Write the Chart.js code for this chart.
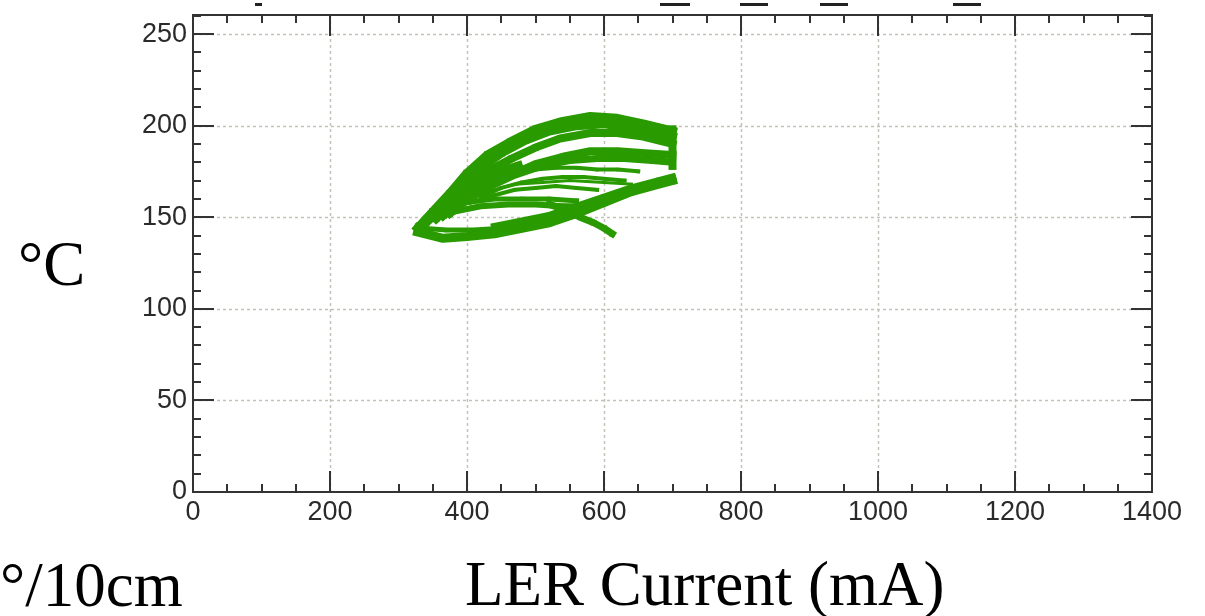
<!DOCTYPE html>
<html>
<head>
<meta charset="utf-8">
<script src="https://cdn.jsdelivr.net/npm/chart.js@4"></script>
<style>
html, body { margin: 0; padding: 0; background: #fff; }
</style>
</head>
<body>
<canvas id="chartTemp" width="1205" height="616"></canvas>
<script>
// axis ranges / ticks
const xTicks = [0, 200, 400, 600, 800, 1000, 1200, 1400];
const yTicks = [0, 50, 100, 150, 200, 250];
const xMinor = 50, yMinor = 10;
const xMax = 1400, yMax = 260.4;

// traces: LER current (mA) vs temperature (°C)
const arcTopI = [328, 350, 375, 400, 430, 463, 500, 536, 580, 619, 657, 700];
const arcTopT = [144, 153, 163, 174, 184, 191, 198, 202, 205, 204, 201, 197];
const arc2I = [340, 365, 390, 420, 450, 485, 520, 560, 600, 640, 700];
const arc2T = [147, 156, 166, 177, 185, 192, 197, 200, 201, 199, 194];
const arc3I = [355, 380, 405, 435, 465, 500, 536, 580, 619, 657, 700];
const arc3T = [149, 158, 167, 176, 182, 188, 193, 196, 196, 194, 190];
const fillI = [365, 395, 425, 450, 475];
const fillT = [151, 161, 170, 175, 178];
const arc4I = [375, 405, 440, 470, 500, 540, 580, 620, 660, 700];
const arc4T = [152, 161, 169, 174, 179, 183, 186, 186, 185, 184];
const arc5I = [395, 430, 470, 510, 550, 590, 630, 670, 700];
const arc5T = [158, 166, 173, 178, 181, 182, 182, 181, 180];
const rightI = [700, 700, 700, 700];
const rightT = [178, 185, 192, 198];

const midAI = [410, 440, 470, 500, 530, 560, 590, 620, 650];
const midAT = [165, 170, 174, 176, 177, 177, 176, 176, 175];
const midBI = [420, 450, 480, 510, 540, 570, 600, 630];
const midBT = [161, 166, 169, 171, 172, 172, 171, 170];
const midCI = [405, 440, 470, 500, 530, 560, 590];
const midCT = [158, 162, 165, 166, 167, 166, 165];
const midDI = [430, 470, 510, 550, 600, 640];
const midDT = [164, 168, 169, 170, 169, 168];

const lowAI = [328, 365, 400, 440, 480, 520, 560, 600, 640, 680, 700];
const lowAT = [142, 138.5, 139.5, 141, 144, 147, 152, 158, 164, 168, 170];
const lowBI = [440, 480, 520, 560, 600, 640, 680, 700];
const lowBT = [145, 148, 151, 156, 161, 166, 170, 172];
const lensBotI = [335, 370, 410, 450, 490, 530];
const lensBotT = [144, 143, 143, 144, 146, 148];
const lensTopI = [330, 350, 380, 420, 460, 500, 540, 580];
const lensTopT = [146, 150, 153, 156, 157, 157, 156, 156];
const shelfI = [340, 370, 400, 440, 480, 520, 560];
const shelfT = [150, 155, 158, 160, 160, 160, 159];
const tailI = [520, 545, 565, 585, 600, 612];
const tailT = [157, 154, 150, 147, 144, 141];

const green = '#299a00';

const traces = [
    [arcTopI, arcTopT, 9], [arc2I, arc2T, 9], [arc3I, arc3T, 8], [fillI, fillT, 9],
    [arc4I, arc4T, 8], [arc5I, arc5T, 7], [rightI, rightT, 8],
    [midAI, midAT, 4], [midBI, midBT, 4], [midCI, midCT, 4], [midDI, midDT, 3],
    [lowAI, lowAT, 9], [lowBI, lowBT, 7], [lensBotI, lensBotT, 5],
    [lensTopI, lensTopT, 6], [shelfI, shelfT, 5], [tailI, tailT, 7]
];

const datasets = traces.map(([xs, ys, w]) => ({
    data: xs.map((x, i) => ({ x: x, y: ys[i] })),
    showLine: true,
    borderColor: green,
    backgroundColor: green,
    borderWidth: w,
    borderJoinStyle: 'round',
    borderCapStyle: 'square',
    pointStyle: 'rect',
    pointRadius: w / 2 + 0.5,
    pointBorderWidth: 0,
    tension: 0
}));

const frame = {
    id: 'frame',
    beforeDatasetsDraw(chart) {
        const { ctx, chartArea: a, scales: { x, y } } = chart;
        ctx.save();
        ctx.strokeStyle = '#c2c2b8';
        ctx.lineWidth = 1.5;
        ctx.setLineDash([3, 3]);
        xTicks.slice(1, -1).forEach(v => {
            const px = Math.round(x.getPixelForValue(v)) + 0.5;
            ctx.beginPath(); ctx.moveTo(px, a.top); ctx.lineTo(px, a.bottom); ctx.stroke();
        });
        yTicks.slice(1).forEach(v => {
            const py = Math.round(y.getPixelForValue(v)) + 0.5;
            ctx.beginPath(); ctx.moveTo(a.left, py); ctx.lineTo(a.right, py); ctx.stroke();
        });
        ctx.restore();
    },
    afterDraw(chart) {
        const { ctx, chartArea: a, scales: { x, y } } = chart;
        ctx.save();
        ctx.strokeStyle = '#333';
        ctx.lineWidth = 2;
        ctx.strokeRect(a.left, a.top, a.right - a.left, a.bottom - a.top);
        ctx.beginPath();
        for (let v = 0; v <= xMax; v += xMinor) {
            const px = Math.round(x.getPixelForValue(v));
            const len = xTicks.includes(v) ? 21 : 8;
            ctx.moveTo(px, a.bottom); ctx.lineTo(px, a.bottom - len);
            ctx.moveTo(px, a.top); ctx.lineTo(px, a.top + len);
        }
        for (let v = 0; v <= yMax; v += yMinor) {
            const py = Math.round(y.getPixelForValue(v));
            const len = yTicks.includes(v) ? 21 : 8;
            ctx.moveTo(a.left, py); ctx.lineTo(a.left + len, py);
            ctx.moveTo(a.right, py); ctx.lineTo(a.right - len, py);
        }
        ctx.stroke();

        // clipped remains of a title above the frame
        ctx.fillStyle = '#222';
        [[255, 7], [660, 30], [740, 28], [820, 28], [953, 28]].forEach(([sx, w]) => {
            ctx.fillRect(sx, 3, w, 3);
        });

        ctx.fillStyle = '#000';
        ctx.font = '63px "Liberation Serif", "Times New Roman", serif';
        ctx.textBaseline = 'alphabetic';
        ctx.textAlign = 'left';
        ctx.fillText('°C', 18, 285);
        ctx.fillText('°/10cm', 0, 606);
        ctx.fillText('LER Current (mA)', 465, 605);
        ctx.restore();
    }
};

const tickFont = { family: '"Liberation Sans", Arial, sans-serif', size: 27 };

new Chart(document.getElementById('chartTemp'), {
    type: 'scatter',
    data: { datasets: datasets },
    options: {
        responsive: false,
        animation: false,
        layout: { padding: { left: 133, right: 53, top: 15, bottom: 0 } },
        plugins: { legend: { display: false }, tooltip: { enabled: false } },
        scales: {
            x: {
                type: 'linear',
                min: 0,
                max: xMax,
                grid: { display: false, drawTicks: false },
                border: { display: false },
                ticks: {
                    padding: 4,
                    maxRotation: 0,
                    autoSkip: false,
                    color: '#2a2a2a',
                    font: tickFont,
                    callback: v => String(v)
                },
                afterBuildTicks(s) { s.ticks = xTicks.map(v => ({ value: v })); },
                afterFit(s) { s.height = 124; s.paddingLeft = 0; s.paddingRight = 0; }
            },
            y: {
                type: 'linear',
                min: 0,
                max: yMax,
                grid: { display: false, drawTicks: false },
                border: { display: false },
                ticks: {
                    padding: 6,
                    color: '#2a2a2a',
                    font: tickFont,
                    callback: v => String(v)
                },
                afterBuildTicks(s) { s.ticks = yTicks.map(v => ({ value: v })); },
                afterFit(s) { s.width = 60; s.paddingTop = 0; s.paddingBottom = 0; }
            }
        }
    },
    plugins: [frame]
});
</script>
</body>
</html>
